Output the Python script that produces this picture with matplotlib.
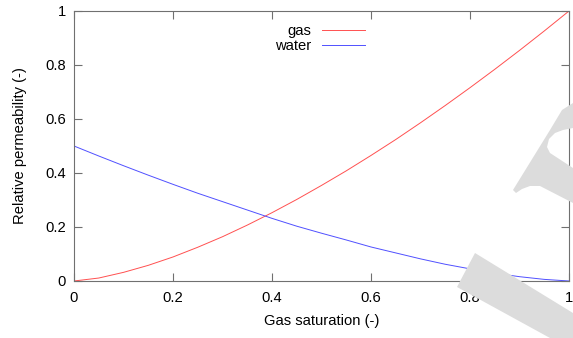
import numpy as np
import matplotlib.pyplot as plt
from matplotlib.patches import Polygon

# saturation grid and relative permeability curves
sg = [0.0, 0.05, 0.1, 0.15, 0.2, 0.25, 0.3, 0.35, 0.4, 0.45, 0.5,
      0.55, 0.6, 0.65, 0.7, 0.75, 0.8, 0.85, 0.9, 0.95, 1.0]
kr_gas = [0.0, 0.011, 0.032, 0.058, 0.089, 0.125, 0.164, 0.207, 0.253, 0.302, 0.354,
          0.408, 0.465, 0.524, 0.586, 0.650, 0.716, 0.784, 0.854, 0.926, 1.0]
kr_water = [0.5, 0.463, 0.427, 0.392, 0.358, 0.325, 0.294, 0.263, 0.232, 0.203, 0.177,
            0.152, 0.126, 0.104, 0.082, 0.062, 0.045, 0.029, 0.016, 0.006, 0.0]
xticks = [0, 0.2, 0.4, 0.6, 0.8, 1]
yticks = [0, 0.2, 0.4, 0.6, 0.8, 1]

plt.rcParams['font.family'] = ['Liberation Sans', 'DejaVu Sans']
fs = 10.6

W, H = 573, 338
fig = plt.figure(figsize=(W / 100, H / 100), dpi=100)


def px(pts):
    # pixel coords (top-left origin) -> figure fraction
    return [(x / W, 1 - y / H) for x, y in pts]


# light grey watermark shapes in the lower right corner
wm = '#dcdcdc'
fig.patches.append(Polygon(px([(516, 193), (522, 189), (530, 186), (540, 186), (573, 203),
                               (573, 168), (550, 153), (547, 147), (549, 139), (555, 133),
                               (563, 130), (573, 128), (573, 103), (562, 110), (550, 130),
                               (513, 190)]),
                           closed=True, transform=fig.transFigure, fc=wm, ec='none', zorder=0))
fig.patches.append(Polygon(px([(475, 253), (573, 313), (573, 338), (550, 338), (457, 287)]),
                           closed=True, transform=fig.transFigure, fc=wm, ec='none', zorder=0))

ax = fig.add_axes([74 / W, 1 - 281 / H, (569 - 74) / W, (281 - 11) / H])
ax.set_facecolor('none')

ax.plot(sg, kr_gas, color='#ff5050', lw=0.7, label='gas')
ax.plot(sg, kr_water, color='#5050ff', lw=0.7, label='water')

ax.set_xlim(0, 1)
ax.set_ylim(0, 1)
ax.set_xticks(xticks)
ax.set_yticks(yticks)
ax.set_xticklabels([f'{t:g}' for t in xticks])
ax.set_yticklabels([f'{t:g}' for t in yticks])
ax.tick_params(direction='in', length=6, width=0.8, color='#707070',
               top=True, right=True, labelsize=fs)
ax.tick_params(axis='x', pad=7)
ax.tick_params(axis='y', pad=6)
for s in ax.spines.values():
    s.set_color('#707070')
    s.set_linewidth(0.8)

ax.set_xlabel('Gas saturation (-)', fontsize=fs, labelpad=7)
ax.set_ylabel('Relative permeability (-)', fontsize=fs, labelpad=13)

ax.legend(loc='upper right', bbox_to_anchor=(0.605, 0.985), frameon=False,
          markerfirst=False, handlelength=2.9, handletextpad=0.7,
          labelspacing=0.1, fontsize=fs, borderaxespad=0.2)

fig.savefig('out.png', dpi=100)
